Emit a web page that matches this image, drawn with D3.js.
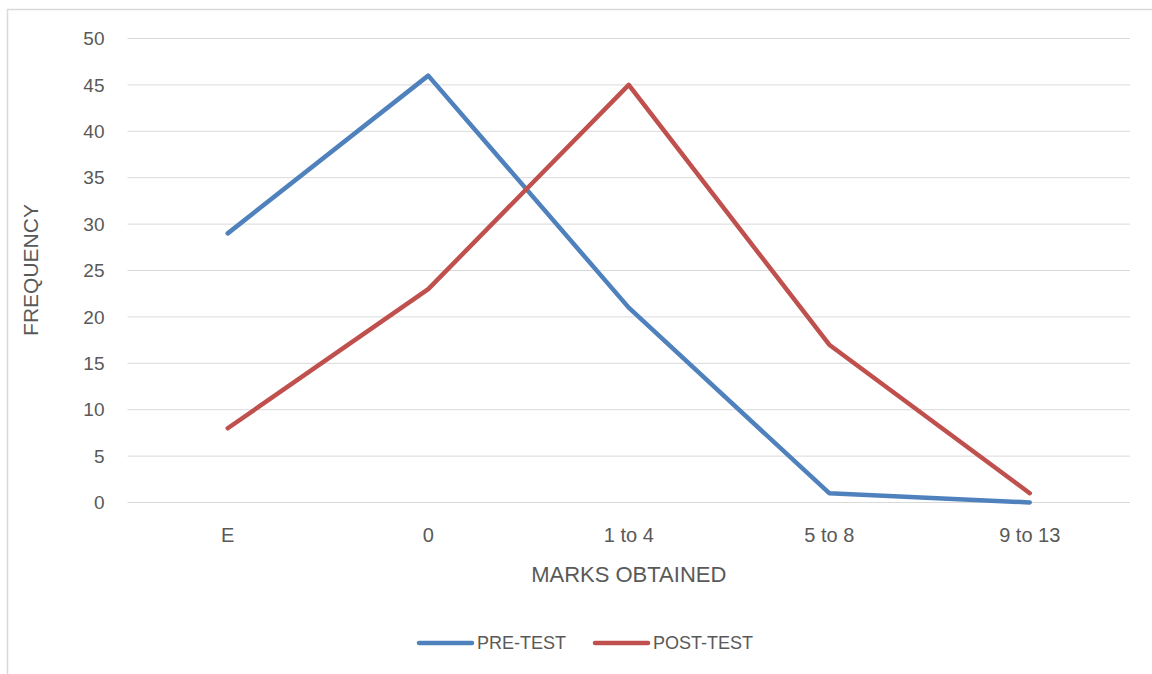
<!DOCTYPE html>
<html>
<head>
<meta charset="utf-8">
<script src="https://cdn.jsdelivr.net/npm/d3@7"></script>
<style>
  body { margin: 0; background: #fff; }
  text { font-family: 'Liberation Sans', Arial, sans-serif; fill: #595959; }
</style>
</head>
<body>
<div id="chart"></div>
<script>
const categories = ['E', '0', '1 to 4', '5 to 8', '9 to 13']
const preTest = [29, 46, 21, 1, 0]
const postTest = [8, 23, 45, 17, 1]
const yTicks = [0, 5, 10, 15, 20, 25, 30, 35, 40, 45, 50]
const seriesNames = ['PRE-TEST', 'POST-TEST']
const seriesColors = ['#4f81bd', '#c0504d']

const width = 1152
const height = 674
const margin = { top: 38.5, right: 22, bottom: 171.5, left: 127.5 }
const plotW = width - margin.left - margin.right
const plotH = height - margin.top - margin.bottom

const svg = d3.select('#chart').append('svg')
  .attr('width', width)
  .attr('height', height)

// outer chart border
svg.append('rect')
  .attr('x', 7.5).attr('y', 9.5)
  .attr('width', width).attr('height', height)
  .attr('fill', 'none')
  .attr('stroke', '#d9d9d9')
  .attr('stroke-width', 1.5)

const g = svg.append('g')
  .attr('transform', `translate(${margin.left},${margin.top})`)

const x = d3.scaleBand().domain(categories).range([0, plotW])
const y = d3.scaleLinear().domain([0, 50]).range([plotH, 0])

// gridlines
g.append('g')
  .selectAll('line')
  .data(yTicks)
  .enter().append('line')
  .attr('x1', 0).attr('x2', plotW)
  .attr('y1', d => y(d)).attr('y2', d => y(d))
  .attr('stroke', '#d9d9d9')
  .attr('stroke-width', 1)

// y tick labels
g.append('g')
  .selectAll('text')
  .data(yTicks)
  .enter().append('text')
  .attr('x', -23)
  .attr('y', d => y(d))
  .attr('dy', '0.35em')
  .attr('text-anchor', 'end')
  .attr('font-size', 19)
  .text(d => d)

// x tick labels
g.append('g')
  .selectAll('text')
  .data(categories)
  .enter().append('text')
  .attr('x', d => x(d) + x.bandwidth() / 2)
  .attr('y', plotH + 32)
  .attr('dy', '0.35em')
  .attr('text-anchor', 'middle')
  .attr('font-size', 20)
  .text(d => d)

// axis titles
svg.append('text')
  .attr('x', margin.left + plotW / 2)
  .attr('y', 574)
  .attr('dy', '0.35em')
  .attr('text-anchor', 'middle')
  .attr('font-size', 22)
  .text('MARKS OBTAINED')

svg.append('text')
  .attr('transform', 'translate(31,270) rotate(-90)')
  .attr('dy', '0.35em')
  .attr('text-anchor', 'middle')
  .attr('font-size', 21)
  .text('FREQUENCY')

// lines
const line = d3.line()
  .x((d, i) => x(categories[i]) + x.bandwidth() / 2)
  .y(d => y(d))

;[preTest, postTest].forEach((s, i) => {
  g.append('path')
    .datum(s)
    .attr('d', line)
    .attr('fill', 'none')
    .attr('stroke', seriesColors[i])
    .attr('stroke-width', 4.5)
    .attr('stroke-linecap', 'round')
    .attr('stroke-linejoin', 'round')
})

// legend
const legendX = [419, 595]
const legend = svg.append('g')
seriesNames.forEach((name, i) => {
  legend.append('line')
    .attr('x1', legendX[i]).attr('x2', legendX[i] + 53)
    .attr('y1', 643).attr('y2', 643)
    .attr('stroke', seriesColors[i])
    .attr('stroke-width', 4.5)
    .attr('stroke-linecap', 'round')
  legend.append('text')
    .attr('x', legendX[i] + 58)
    .attr('y', 643)
    .attr('dy', '0.35em')
    .attr('font-size', 18)
    .text(name)
})
</script>
</body>
</html>
